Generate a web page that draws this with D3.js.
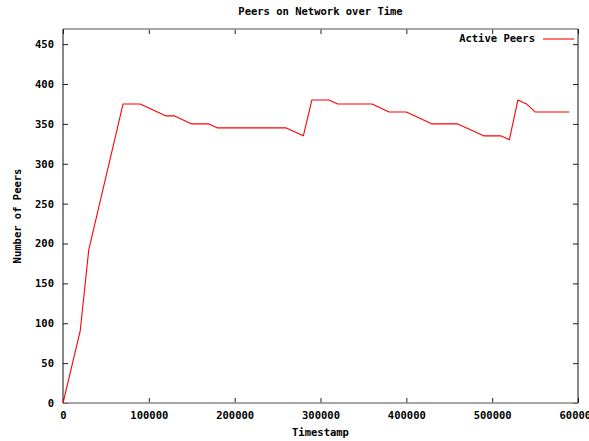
<!DOCTYPE html>
<html>
<head>
<meta charset="utf-8">
<script src="https://cdn.jsdelivr.net/npm/d3@7"></script>
<style>
  body {
    margin: 0;
    background: #fff;
  }
  text {
    font-family: 'DejaVu Sans Mono', 'Liberation Mono', monospace;
    font-weight: bold;
    font-size: 10.5px;
    fill: #000;
  }
</style>
</head>
<body>
<div id="chart"></div>
<script>
// timestamps and active peer counts
const timestamps = [
  0, 20000, 30000, 70000, 90000, 120000, 130000, 150000, 170000, 180000,
  260000, 280000, 290000, 310000, 320000, 360000, 380000, 400000, 430000,
  460000, 490000, 510000, 520000, 530000, 540000, 550000, 590000
]
const activePeers = [
  0, 90, 192, 375, 375, 360, 360, 350, 350, 345,
  345, 335, 380, 380, 375, 375, 365, 365, 350,
  350, 335, 335, 330, 380, 375, 365, 365
]
const xTicks = [0, 100000, 200000, 300000, 400000, 500000, 600000]
const yTicks = [0, 50, 100, 150, 200, 250, 300, 350, 400, 450]

var margin = {
  top: 29,
  right: 11,
  bottom: 38,
  left: 63
}

let width = 589 - margin.left - margin.right
let height = 441 - margin.top - margin.bottom

let svg = d3
  .select('#chart')
  .append('svg')
  .attr('width', width + margin.left + margin.right)
  .attr('height', height + margin.top + margin.bottom)
  .append('g')
  .attr('transform', 'translate(' + margin.left + ',' + margin.top + ')')

const xPositionScale = d3.scaleLinear().domain([0, 600000]).range([0, width])
const yPositionScale = d3.scaleLinear().domain([0, 469]).range([height, 0])

const points = timestamps.map((t, i) => {
  return { t: t, peers: activePeers[i] }
})

const line = d3
  .line()
  .x(d => xPositionScale(d.t))
  .y(d => yPositionScale(d.peers))

// ticks pointing inward, mirrored on top and right
let tickLen = 5

var xAxis = d3
  .axisBottom(xPositionScale)
  .tickValues(xTicks)
  .tickSize(-tickLen)
  .tickPadding(9)
  .tickFormat(d3.format('d'))

svg
  .append('g')
  .attr('class', 'axis x-axis')
  .attr('transform', 'translate(0,' + height + ')')
  .call(xAxis)

var yAxis = d3
  .axisLeft(yPositionScale)
  .tickValues(yTicks)
  .tickSize(-tickLen)
  .tickPadding(9)

svg
  .append('g')
  .attr('class', 'axis y-axis')
  .call(yAxis)

svg
  .append('g')
  .attr('class', 'axis x-mirror')
  .call(d3.axisTop(xPositionScale).tickValues(xTicks).tickSize(-tickLen).tickFormat(''))

svg
  .append('g')
  .attr('class', 'axis y-mirror')
  .attr('transform', 'translate(' + width + ',0)')
  .call(d3.axisRight(yPositionScale).tickValues(yTicks).tickSize(-tickLen).tickFormat(''))

svg.selectAll('.domain').remove()
svg.selectAll('.axis line').attr('stroke', '#222')
svg.selectAll('.axis text').attr('font-family', null).attr('font-size', null)

// border: gnuplot style
svg
  .append('line')
  .attr('x1', 0)
  .attr('x2', width)
  .attr('y1', 0)
  .attr('y2', 0)
  .attr('stroke', '#888')
  .attr('stroke-width', 1.6)
svg
  .append('line')
  .attr('x1', 0)
  .attr('x2', width)
  .attr('y1', height)
  .attr('y2', height)
  .attr('stroke', '#888')
  .attr('stroke-width', 1.6)
svg
  .append('line')
  .attr('x1', 0)
  .attr('x2', 0)
  .attr('y1', 0)
  .attr('y2', height)
  .attr('stroke', '#111')
svg
  .append('line')
  .attr('x1', width)
  .attr('x2', width)
  .attr('y1', 0)
  .attr('y2', height)
  .attr('stroke', '#111')

svg
  .append('path')
  .datum(points)
  .attr('fill', 'none')
  .attr('stroke', '#ff0000')
  .attr('stroke-width', 1.1)
  .attr('stroke-linejoin', 'round')
  .attr('d', line)

// title and axis labels
svg
  .append('text')
  .attr('x', width / 2)
  .attr('y', -17)
  .attr('text-anchor', 'middle')
  .attr('dominant-baseline', 'middle')
  .text('Peers on Network over Time')

svg
  .append('text')
  .attr('x', width / 2)
  .attr('y', height + 30)
  .attr('text-anchor', 'middle')
  .attr('dominant-baseline', 'middle')
  .text('Timestamp')

svg
  .append('text')
  .attr('transform', 'translate(' + (18 - margin.left) + ',' + (216 - margin.top) + ') rotate(-90)')
  .attr('text-anchor', 'middle')
  .attr('dominant-baseline', 'middle')
  .text('Number of Peers')

// legend
let legend = svg.append('g').attr('transform', 'translate(' + (width - 43) + ',10)')

legend
  .append('text')
  .attr('x', 0)
  .attr('y', 0)
  .attr('text-anchor', 'end')
  .attr('dominant-baseline', 'middle')
  .text('Active Peers')

legend
  .append('line')
  .attr('x1', 8)
  .attr('x2', 39)
  .attr('y1', 0)
  .attr('y2', 0)
  .attr('stroke', '#ff0000')
  .attr('stroke-width', 1.1)
</script>
</body>
</html>
